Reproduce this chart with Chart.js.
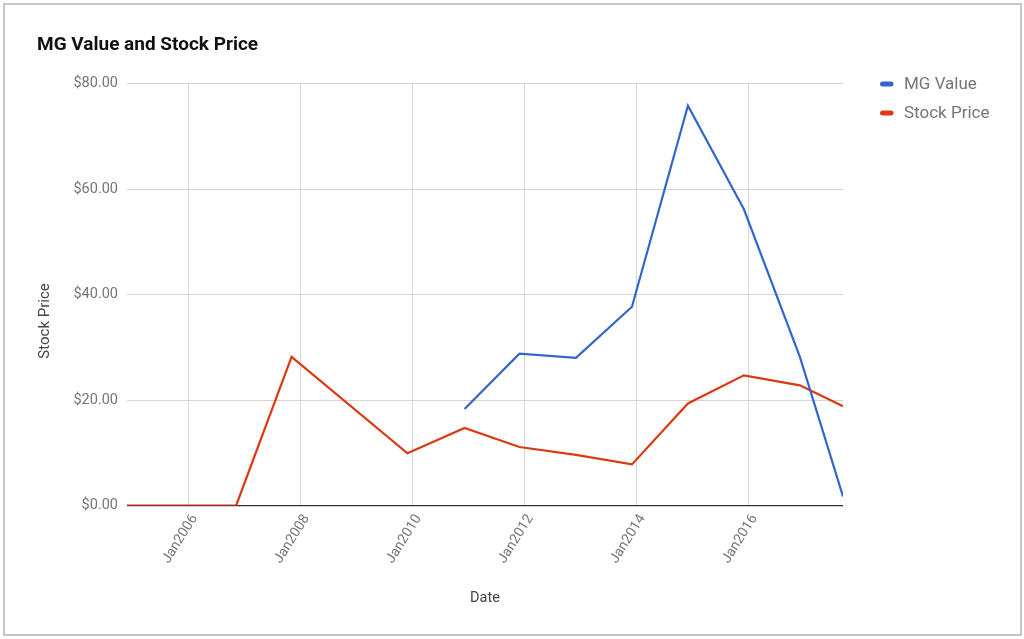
<!DOCTYPE html>
<html>
<head>
<meta charset="utf-8">
<script src="https://cdn.jsdelivr.net/npm/chart.js@4/dist/chart.umd.min.js"></script>
<style>
  html, body { margin: 0; padding: 0; background: #ffffff; }
  #frame { position: absolute; left: 3px; top: 3px; width: 1015px; height: 629px; border: 2px solid #c6c6c6; background: #fff; }
  #c { position: absolute; left: 0; top: 0; }
</style>
</head>
<body>
<div id="frame"></div>
<canvas id="c" width="1024" height="639"></canvas>
<script>
// ---- data ----
const chartTitle = 'MG Value and Stock Price';
const seriesNames = ['MG Value', 'Stock Price'];
const mgDates = [2010.93, 2011.91, 2012.92, 2013.92, 2014.92, 2015.92, 2016.92, 2017.69];
const mgValue = [18.3, 28.8, 28.0, 37.7, 75.85, 56.2, 28.2, 1.7];
const stockDates = [2004.90, 2005.88, 2006.85, 2007.84, 2009.91, 2010.93, 2011.91, 2012.92, 2013.92, 2014.92, 2015.92, 2016.92, 2017.69];
const stockPrice = [0, 0, 0, 28.2, 9.9, 14.7, 11.1, 9.6, 7.8, 19.35, 24.7, 22.8, 18.85];
const xTickYears = [2006, 2008, 2010, 2012, 2014, 2016];
const yTicks = [0, 20, 40, 60, 80];
const xTitle = 'Date';
const yTitle = 'Stock Price';
const colors = ['#3366cc', '#dc3912'];

const toPts = (xs, ys) => xs.map((x, i) => ({ x: x, y: ys[i] }));

const legendPlugin = {
  id: 'sideLegend',
  afterDraw(chart, args, opts) {
    const ctx = chart.ctx;
    const x0 = chart.chartArea.right + opts.offsetX;
    ctx.save();
    chart.data.datasets.forEach((ds, i) => {
      const y = opts.top + i * opts.spacing;
      ctx.strokeStyle = ds.borderColor;
      ctx.lineWidth = 5;
      ctx.lineCap = 'round';
      ctx.beginPath();
      ctx.moveTo(x0 + 2.5, y);
      ctx.lineTo(x0 + 11, y);
      ctx.stroke();
      ctx.fillStyle = '#757575';
      ctx.font = '17px Roboto, Arial, sans-serif';
      ctx.textBaseline = 'middle';
      ctx.textAlign = 'left';
      ctx.fillText(ds.label, x0 + 24, y + 1);
    });
    // y-axis title, placed like the reference (a little below the centre)
    ctx.translate(opts.yTitleX, opts.yTitleY);
    ctx.rotate(-Math.PI / 2);
    ctx.fillStyle = '#444';
    ctx.font = '15px Roboto, Arial, sans-serif';
    ctx.textAlign = 'center';
    ctx.textBaseline = 'middle';
    ctx.fillText(yTitle, 0, 0);
    ctx.restore();
  }
};

new Chart(document.getElementById('c'), {
  type: 'line',
  data: {
    datasets: [
      { label: seriesNames[0], data: toPts(mgDates, mgValue), borderColor: colors[0], backgroundColor: colors[0], borderWidth: 2.2, pointRadius: 0, tension: 0, fill: false },
      { label: seriesNames[1], data: toPts(stockDates, stockPrice), borderColor: colors[1], backgroundColor: colors[1], borderWidth: 2.2, pointRadius: 0, tension: 0, fill: false }
    ]
  },
  options: {
    responsive: false,
    animation: false,
    events: [],
    layout: { padding: { left: 37, top: 4, right: 181, bottom: 30 } },
    plugins: {
      legend: { display: false },
      tooltip: { enabled: false },
      title: {
        display: true, text: chartTitle, align: 'start', color: '#111',
        font: { family: 'Roboto', size: 19, weight: 'bold' },
        padding: { top: 30, bottom: 27 }
      },
      sideLegend: { offsetX: 37, top: 84, spacing: 29, yTitleX: 45, yTitleY: 321 }
    },
    scales: {
      x: {
        type: 'linear',
        min: stockDates[0],
        max: stockDates[stockDates.length - 1],
        afterBuildTicks: (s) => { s.ticks = xTickYears.map(v => ({ value: v })); },
        afterFit: (s) => { s.height = 103.5; },
        ticks: {
          autoSkip: false, minRotation: 58, maxRotation: 58, padding: 6, labelOffset: 6,
          color: '#757575', font: { family: 'Roboto', size: 14 },
          callback: (v) => 'Jan' + v
        },
        grid: { color: '#d4d4d4', lineWidth: 1, drawTicks: false },
        border: { display: false },
        title: { display: true, text: xTitle, color: '#444', font: { family: 'Roboto', size: 14.5 }, padding: { top: 0, bottom: 2 } }
      },
      y: {
        min: 0, max: 80,
        afterBuildTicks: (s) => { s.ticks = yTicks.map(v => ({ value: v })); },
        afterFit: (s) => { s.width = 90; },
        ticks: {
          padding: 9, color: '#757575', font: { family: 'Roboto', size: 14.5 },
          callback: (v) => '$' + Number(v).toFixed(2)
        },
        grid: { color: (c) => c.tick && c.tick.value === 0 ? '#333333' : '#d4d4d4', lineWidth: (c) => c.tick && c.tick.value === 0 ? 1.3 : 1, drawTicks: false },
        border: { display: false },
        title: { display: false }
      }
    }
  },
  plugins: [legendPlugin]
});
</script>
</body>
</html>
